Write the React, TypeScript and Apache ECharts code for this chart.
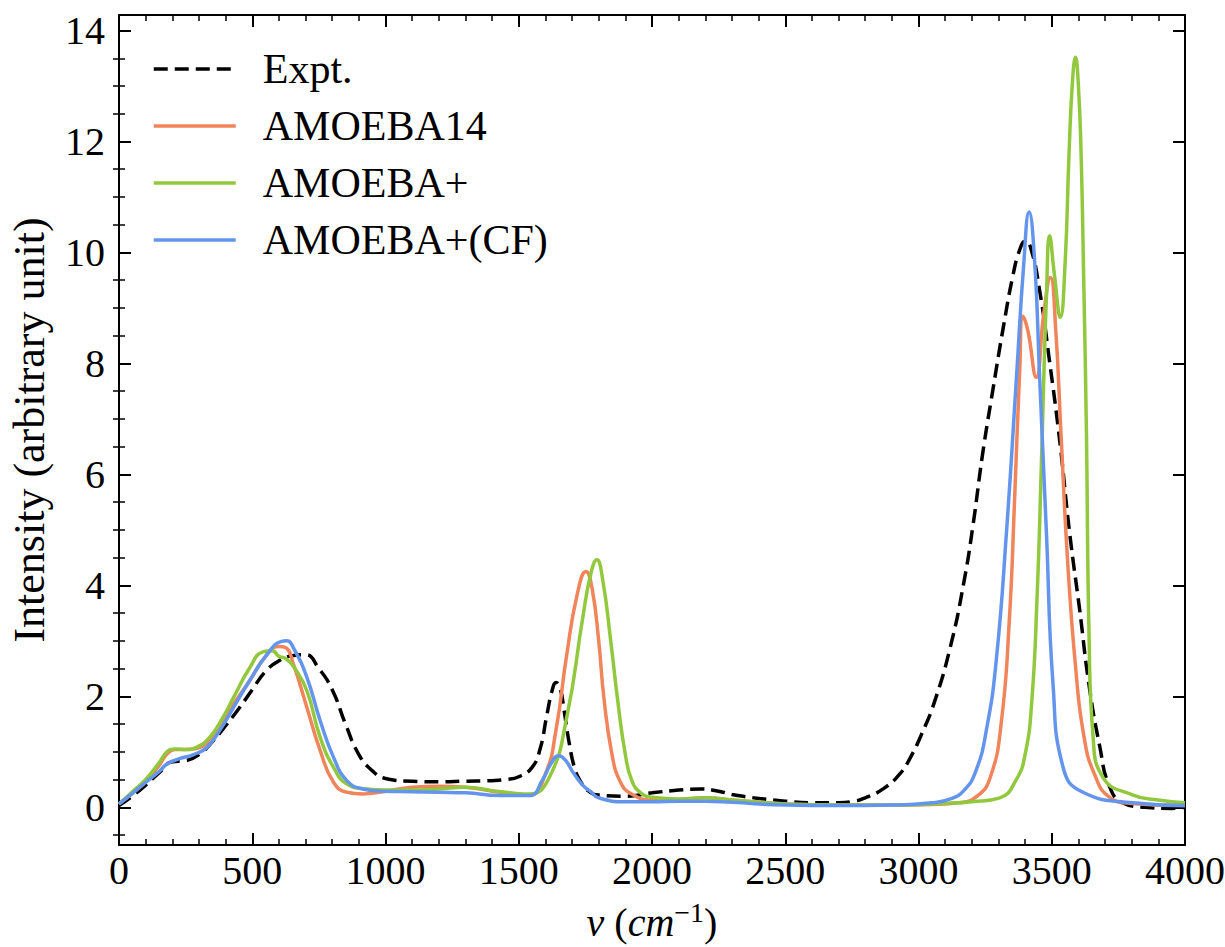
import React, { useEffect, useRef } from "react";
import * as echarts from "echarts";

const FONT = "'Liberation Serif', 'DejaVu Serif', serif";

const seriesNames = ["Expt.", "AMOEBA14", "AMOEBA+", "AMOEBA+(CF)"];
const seriesColors = ["#000000", "#F0845A", "#92C83E", "#6495ED"];

const yMajorTicks = [0, 2, 4, 6, 8, 10, 12, 14];
const yMinorTicks = [-0.5, 0.5, 1, 1.5, 2.5, 3, 3.5, 4.5, 5, 5.5, 6.5, 7, 7.5, 8.5, 9, 9.5, 10.5, 11, 11.5, 12.5, 13, 13.5];

const exptX = [0, 50, 100, 150, 200, 250, 300, 350, 400, 450, 500, 550, 600, 650, 700, 750, 800, 850, 900, 950, 1000, 1100, 1200, 1300, 1400, 1450, 1500, 1550, 1580, 1605, 1625, 1640, 1655, 1670, 1690, 1710, 1730, 1760, 1800, 1900, 2000, 2100, 2180, 2250, 2300, 2400, 2500, 2600, 2700, 2750, 2800, 2870, 2930, 2970, 3010, 3060, 3120, 3170, 3205, 3240, 3280, 3320, 3355, 3380, 3400, 3420, 3455, 3490, 3530, 3567, 3605, 3640, 3680, 3717, 3767, 3850, 3950, 4000];
const exptY = [0.03, 0.2, 0.4, 0.62, 0.82, 0.84, 0.95, 1.18, 1.47, 1.78, 2.12, 2.45, 2.64, 2.73, 2.75, 2.5, 2.12, 1.5, 0.95, 0.66, 0.52, 0.47, 0.46, 0.47, 0.48, 0.5, 0.55, 0.72, 1.05, 1.65, 2.1, 2.25, 2.15, 1.75, 1.14, 0.7, 0.48, 0.3, 0.22, 0.2, 0.26, 0.31, 0.33, 0.29, 0.23, 0.16, 0.11, 0.08, 0.08, 0.1, 0.17, 0.34, 0.6, 0.9, 1.3, 1.9, 2.9, 4.05, 5.1, 6.35, 7.55, 8.7, 9.6, 10.05, 10.2, 10.1, 9.3, 8.1, 6.6, 4.95, 3.55, 2.2, 1.1, 0.37, 0.08, 0.0, -0.02, 0.0];

const a14X = [0, 50, 100, 150, 180, 210, 250, 290, 330, 380, 430, 490, 550, 600, 625, 655, 705, 755, 805, 855, 915, 990, 1100, 1200, 1300, 1430, 1540, 1600, 1640, 1680, 1720, 1752, 1775, 1800, 1820, 1850, 1880, 1920, 2000, 2100, 2200, 2300, 2500, 2700, 2900, 3050, 3150, 3220, 3270, 3310, 3340, 3361, 3380, 3392, 3410, 3442, 3470, 3495, 3515, 3535, 3560, 3590, 3620, 3660, 3720, 3800, 4000];
const a14Y = [0.06, 0.25, 0.46, 0.75, 0.96, 1.04, 1.04, 1.06, 1.17, 1.5, 1.86, 2.28, 2.72, 2.9, 2.88, 2.57, 1.8, 1.02, 0.45, 0.27, 0.24, 0.28, 0.36, 0.38, 0.36, 0.27, 0.22, 0.6, 1.4, 2.75, 3.85, 4.25, 3.95, 3.0, 1.95, 0.95, 0.47, 0.25, 0.13, 0.14, 0.17, 0.13, 0.06, 0.04, 0.04, 0.05, 0.08, 0.2, 0.55, 1.5, 3.3, 5.6, 7.9, 8.85, 8.6, 7.75, 8.9, 9.55, 8.6, 6.7, 4.4, 2.5, 1.3, 0.6, 0.17, 0.07, 0.03];

const apX = [0, 50, 100, 150, 180, 210, 250, 290, 340, 390, 430, 490, 540, 575, 600, 625, 660, 705, 755, 805, 855, 930, 1000, 1100, 1200, 1300, 1400, 1490, 1540, 1615, 1680, 1740, 1770, 1793, 1815, 1845, 1872, 1900, 1925, 1960, 2000, 2100, 2200, 2300, 2500, 2700, 2900, 3100, 3200, 3305, 3367, 3400, 3425, 3445, 3460, 3470, 3480, 3492, 3510, 3532, 3550, 3565, 3578, 3589, 3600, 3610, 3620, 3630, 3640, 3655, 3692, 3805, 3900, 4000];
const apY = [0.06, 0.28, 0.5, 0.8, 1.0, 1.05, 1.04, 1.08, 1.26, 1.62, 1.98, 2.51, 2.8, 2.82, 2.72, 2.68, 2.5, 2.1, 1.26, 0.72, 0.42, 0.33, 0.31, 0.31, 0.33, 0.36, 0.3, 0.25, 0.24, 0.54, 1.62, 3.41, 4.2, 4.46, 4.1, 3.0, 1.9, 0.95, 0.47, 0.25, 0.18, 0.15, 0.17, 0.13, 0.06, 0.04, 0.04, 0.07, 0.1, 0.17, 0.5, 0.95, 1.9, 3.8, 6.0, 7.7, 9.2, 10.3, 9.6, 8.83, 9.8, 11.8, 13.1, 13.52, 13.0, 11.8, 9.5, 6.8, 3.1, 1.28, 0.54, 0.22, 0.13, 0.08];

const cfX = [0, 50, 100, 150, 180, 230, 280, 330, 380, 430, 490, 555, 610, 630, 655, 705, 755, 805, 855, 915, 990, 1100, 1200, 1300, 1430, 1540, 1590, 1620, 1650, 1675, 1705, 1740, 1770, 1800, 1900, 2000, 2100, 2200, 2300, 2500, 2700, 2900, 3050, 3120, 3170, 3215, 3255, 3292, 3330, 3367, 3395, 3415, 3435, 3455, 3480, 3505, 3542, 3617, 3805, 4000];
const cfY = [0.06, 0.25, 0.45, 0.64, 0.78, 0.88, 0.95, 1.08, 1.4, 1.8, 2.28, 2.75, 2.99, 3.0, 2.87, 2.34, 1.56, 0.9, 0.48, 0.33, 0.29, 0.28, 0.27, 0.26, 0.21, 0.21, 0.5, 0.78, 0.93, 0.85, 0.62, 0.4, 0.28, 0.17, 0.1, 0.1, 0.11, 0.11, 0.09, 0.04, 0.03, 0.04, 0.08, 0.15, 0.3, 0.65, 1.4, 2.66, 4.95, 7.7, 9.8, 10.73, 9.9, 7.7, 4.95, 2.2, 0.73, 0.27, 0.08, 0.03];

const zip = (xs: number[], ys: number[]) => xs.map((x, i) => [x, ys[i]]);

export default function App() {
  const ref = useRef<HTMLDivElement>(null);
  useEffect(() => {
    if (!ref.current) return;
    const chart = echarts.init(ref.current, null, { renderer: "svg" });
    const black = "#000";
    const xBase = {
      type: "value",
      min: 0,
      max: 4000,
      interval: 500,
      splitLine: { show: false },
      axisLine: { show: true, onZero: false, lineStyle: { color: black, width: 2 } },
      axisTick: { show: true, inside: true, length: 12, lineStyle: { color: black, width: 2 } },
      minorTick: { show: true, splitNumber: 5, length: 6, lineStyle: { color: black, width: 1.5 } },
    };
    const yBase = {
      type: "value",
      min: -0.68,
      max: 14.28,
      splitLine: { show: false },
    };
    const lineSeries = [zip(exptX, exptY), zip(a14X, a14Y), zip(apX, apY), zip(cfX, cfY)].map((d, i) => ({
      name: seriesNames[i],
      type: "line",
      data: d,
      symbol: "none",
      symbolSize: 0,
      showSymbol: false,
      smooth: 0.5,
      xAxisIndex: 0,
      yAxisIndex: 0,
      color: seriesColors[i],
      lineStyle: { color: seriesColors[i], width: 3.5, type: i === 0 ? [14, 7] : "solid" },
      z: 2 + i,
    }));
    chart.setOption({
      animation: false,
      backgroundColor: "#fff",
      textStyle: { fontFamily: FONT },
      grid: { left: 119, right: 40, top: 15, bottom: 102, containLabel: false, outerBoundsMode: "none" },
      legend: {
        data: seriesNames.map((n) => ({ name: n })),
        orient: "vertical",
        left: 152,
        top: 48,
        padding: 0,
        itemWidth: 82,
        itemHeight: 14,
        itemGap: 15,
        itemStyle: { opacity: 0 },
        lineStyle: { width: 3.5 },
        textStyle: { fontSize: 42, fontFamily: FONT, color: black, lineHeight: 42, padding: [0, 0, 0, 22] },
      },
      xAxis: [
        {
          ...xBase,
          position: "bottom",
          name: "{i|ν} ({i|cm}{sup|−1})",
          nameLocation: "middle",
          nameGap: 53,
          nameTextStyle: {
            fontSize: 40,
            fontFamily: FONT,
            color: black,
            rich: {
              i: { fontStyle: "italic", fontSize: 40, fontFamily: FONT, color: black },
              sup: { fontSize: 28, fontFamily: FONT, color: black, padding: [0, 0, 20, 0] },
            },
          },
          axisLabel: { show: true, fontSize: 40, fontFamily: FONT, color: black, margin: 5, formatter: (v: number) => String(v) },
        },
        {
          ...xBase,
          position: "top",
          axisLabel: { show: false },
        },
      ],
      yAxis: [
        {
          ...yBase,
          position: "left",
          name: "Intensity (arbitrary unit)",
          nameLocation: "middle",
          nameGap: 68,
          nameTextStyle: { fontSize: 44, fontFamily: FONT, color: black },
          axisLine: { show: true, onZero: false, lineStyle: { color: black, width: 2 } },
          axisTick: { show: true, inside: true, length: 12, customValues: yMajorTicks, lineStyle: { color: black, width: 2 } },
          axisLabel: { show: true, customValues: yMajorTicks, fontSize: 40, fontFamily: FONT, color: black, margin: 14, formatter: (v: number) => String(v) },
        },
        {
          ...yBase,
          position: "left",
          axisLine: { show: false },
          axisTick: { show: true, inside: true, length: 6, customValues: yMinorTicks, lineStyle: { color: black, width: 1.5 } },
          axisLabel: { show: false },
        },
        {
          ...yBase,
          position: "right",
          axisLine: { show: true, onZero: false, lineStyle: { color: black, width: 2 } },
          axisTick: { show: true, inside: true, length: 12, customValues: yMajorTicks, lineStyle: { color: black, width: 2 } },
          axisLabel: { show: false },
        },
        {
          ...yBase,
          position: "right",
          axisLine: { show: false },
          axisTick: { show: true, inside: true, length: 6, customValues: yMinorTicks, lineStyle: { color: black, width: 1.5 } },
          axisLabel: { show: false },
        },
      ],
      series: lineSeries,
    });
    return () => chart.dispose();
  }, []);
  return <div ref={ref} style={{ position: "absolute", left: 0, top: 0, width: 1225, height: 947 }} />;
}
